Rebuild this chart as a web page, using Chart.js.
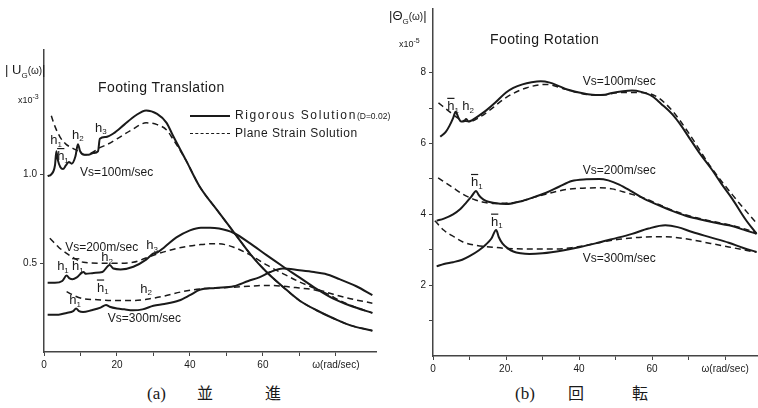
<!DOCTYPE html>
<html>
<head>
<meta charset="utf-8">
<script src="https://cdn.jsdelivr.net/npm/chart.js@4.4.1/dist/chart.umd.min.js"></script>
<style>
  body { margin:0; background:#fff; width:758px; height:408px; overflow:hidden; position:relative;
         font-family:"Liberation Sans", Arial, sans-serif; color:#1a1a1a; }
  canvas { position:absolute; top:0; }
  #cTrans { left:0; }
  #cRot { left:380px; }
  .txt { position:absolute; white-space:nowrap; line-height:1; }
  .cap { position:absolute; font-size:16px; line-height:1; }
  .cjk { font-family:"Noto Sans CJK JP", sans-serif; }
  .ser { font-family:"Liberation Serif", serif; font-size:17px; }
  .sol { position:absolute; border-top:2px solid #1a1a1a; width:40px; }
  .das { position:absolute; border-top:1.6px dashed #1a1a1a; width:40px; }
</style>
</head>
<body>
<canvas id="cTrans" width="380" height="380"></canvas>
<canvas id="cRot" width="378" height="380"></canvas>

<div class="txt" style="left:5px;top:63px;font-size:13px">| U<sub style="font-size:8px">G</sub><span style="font-size:10px">(ω)</span>|</div>
<div class="txt" style="left:18px;top:93px;font-size:9px">x10<sup style="font-size:7px">-3</sup></div>
<div class="txt" style="left:389px;top:9px;font-size:13px">|Θ<sub style="font-size:8px">G</sub><span style="font-size:10px">(ω)</span>|</div>
<div class="txt" style="left:399px;top:37px;font-size:9px">x10<sup style="font-size:7px">-5</sup></div>

<div class="txt" style="left:98px;top:80px;font-size:14px;letter-spacing:0.4px">Footing Translation</div>
<div class="txt" style="left:490px;top:32px;font-size:14px;letter-spacing:0.4px">Footing Rotation</div>

<div class="sol" style="left:190px;top:115px"></div>
<div class="txt" style="left:235px;top:109px;font-size:12px;letter-spacing:1.6px">Rigorous Solution<span style="font-size:8.5px;letter-spacing:0">(D=0.02)</span></div>
<div class="das" style="left:190px;top:133px"></div>
<div class="txt" style="left:235px;top:127px;font-size:12px;letter-spacing:0.5px">Plane Strain Solution</div>

<div class="cap ser" style="left:147px;top:385px">(a)</div>
<div class="cap cjk" style="left:197px;top:384px">並</div>
<div class="cap cjk" style="left:265px;top:384px">進</div>
<div class="cap ser" style="left:515px;top:385px">(b)</div>
<div class="cap cjk" style="left:568px;top:384px">回</div>
<div class="cap cjk" style="left:632px;top:384px">転</div>

<script>
// (a) footing translation |U_G(w)|, x10^-3
const tW100r = [1,2,3,3.4,3.8,4.5,5.2,6,6.8,7.6,8.6,9.3,9.9,11,12.2,13.5,14.8,15.3,17,19,22,25,28,31,33.6,35.3,38.9,42.7,47.4,52,56.6,61,65.6,70,74.7,79.3,84,90];
const tU100r = [0.99,1.0,1.05,1.13,1.08,1.04,1.03,1.05,1.07,1.06,1.10,1.17,1.13,1.11,1.11,1.12,1.13,1.20,1.21,1.23,1.28,1.33,1.36,1.34,1.29,1.22,1.08,0.93,0.80,0.675,0.55,0.45,0.365,0.29,0.235,0.19,0.15,0.12];
const tW100p = [2,3,4.4,6,7.6,9.5,11.2,13,15.3,17.5,20,24,28,31,33.6,35.3,38.9,42.7,47.4,52,56.6,61,65.6,70,74.7,79.3,84,90];
const tU100p = [1.33,1.27,1.21,1.17,1.15,1.13,1.11,1.12,1.15,1.17,1.20,1.25,1.29,1.28,1.25,1.20,1.08,0.93,0.80,0.675,0.55,0.45,0.365,0.29,0.235,0.19,0.15,0.12];
const tW200r = [1,3,5,6.2,7,7.8,9,10.8,11.5,13.6,16,18,19,21,24.5,28,30,31,33,36.3,40,43,45.5,48,52,56.6,61,65.6,70,74.7,79.3,84,90];
const tU200r = [0.39,0.39,0.40,0.43,0.415,0.41,0.42,0.45,0.44,0.445,0.45,0.49,0.47,0.465,0.48,0.52,0.555,0.56,0.59,0.645,0.685,0.70,0.70,0.695,0.67,0.61,0.545,0.48,0.42,0.355,0.30,0.26,0.22];
const tW200p = [1.6,4,6.2,8.5,10.8,15.3,20,24.4,30,34,38,43,47.4,52,56.6,61,65.6,70,74.7,79.3,84,90];
const tU200p = [0.64,0.59,0.555,0.525,0.505,0.50,0.50,0.505,0.545,0.57,0.59,0.605,0.61,0.59,0.545,0.49,0.44,0.395,0.355,0.325,0.30,0.275];
const tW300r = [1,4,6.2,8,8.8,9.6,10.7,13,15.5,17,18,20,22,24.4,27,30,33,37,40,42.7,47,52,56,59,62,65.5,70,74,77,81,85.6,90];
const tU300r = [0.21,0.21,0.22,0.23,0.245,0.23,0.225,0.235,0.25,0.265,0.255,0.245,0.24,0.235,0.24,0.26,0.27,0.29,0.32,0.35,0.36,0.37,0.40,0.42,0.45,0.47,0.46,0.45,0.44,0.41,0.37,0.32];
const tW300p = [6.2,8,10.7,14,20,25,29,33,38,42.7,47,52,56,61,65.5,70,74,77.4,81,85.6,90];
const tU300p = [0.34,0.32,0.30,0.295,0.29,0.29,0.30,0.315,0.34,0.355,0.36,0.365,0.37,0.375,0.37,0.36,0.35,0.33,0.29,0.25,0.22];

// (b) footing rotation |Theta_G(w)|, x10^-5
const rW100r = [2,3.5,4.5,5.5,6.2,7,7.7,8.5,9.1,9.7,10.5,12.5,14.5,17,20,22,24.5,27,29.5,32,34.5,37,40,42,44.5,47,49,52,54.5,57,60,62.5,65.5,68,70,73,76.4,79,82,85.5,88.6];
const rV100r = [6.19,6.33,6.5,6.72,6.9,6.72,6.62,6.63,6.69,6.62,6.65,6.78,6.93,7.15,7.44,7.57,7.67,7.73,7.76,7.72,7.62,7.52,7.44,7.4,7.37,7.38,7.43,7.48,7.5,7.46,7.34,7.12,6.83,6.5,6.19,5.73,5.26,4.86,4.43,3.87,3.45];
const rW100p = [1.5,4.5,6.5,8.2,10,12.7,16,20,25.5,31,36.4,40,43.6,47,51,56,61,65.5,70,76,82,88.6];
const rV100p = [7.15,6.9,6.74,6.65,6.62,6.74,6.98,7.3,7.57,7.67,7.53,7.43,7.37,7.38,7.44,7.44,7.34,6.93,6.3,5.35,4.55,3.75];
const rW200r = [1,3,5.5,7.5,9.1,10.5,11.8,12.5,13.2,14.5,16.4,20,24.5,28,31,34.5,38,42,45.5,48,51,54.5,58,62,65.5,69,72.7,77,81,85,88.6];
const rV200r = [3.82,3.88,4.0,4.15,4.33,4.5,4.66,4.55,4.47,4.38,4.33,4.29,4.38,4.5,4.61,4.78,4.94,4.99,5.0,4.96,4.84,4.64,4.43,4.25,4.10,3.97,3.87,3.77,3.69,3.57,3.45];
const rW200p = [1.4,5.5,8,11,13.5,16.4,21.8,29,36.4,41,45.5,49,52,55,58,62,65.5,69,72.7,77,81,85,88.6];
const rV200p = [5.03,4.75,4.58,4.43,4.35,4.31,4.33,4.52,4.70,4.74,4.75,4.72,4.64,4.55,4.45,4.27,4.12,3.99,3.89,3.79,3.71,3.6,3.48];
const rW300r = [1,3,5.5,8,10,12.5,14.5,16,17.3,18,19,20.5,22,24,26.4,30,35.5,40,44.5,49,54.5,59,63.6,67,71,76,81,85,88.6];
const rV300r = [2.53,2.6,2.65,2.72,2.82,2.98,3.15,3.32,3.56,3.36,3.18,3.04,2.95,2.9,2.88,2.9,2.98,3.07,3.18,3.3,3.45,3.6,3.69,3.64,3.5,3.35,3.2,3.05,2.94];
const rW300p = [0.5,3,6,8.2,12,15.6,20,26.5,33,38,43,47.3,52,56.4,60,63.6,67,71,76,81,85,88.6];
const rV300p = [3.82,3.55,3.35,3.22,3.12,3.08,3.04,3.02,3.02,3.06,3.15,3.24,3.31,3.35,3.37,3.37,3.34,3.28,3.18,3.08,3.0,2.93];

// curve labels and resonance marks (data coords)
const transNotes = [
  {t:'Vs=100m/sec', x:9.9, y:1.01},
  {t:'Vs=200m/sec', x:5.8, y:0.59},
  {t:'Vs=300m/sec', x:17.5, y:0.185},
  {h:'1', x:3.3, y:1.19}, {h:'1', bar:true, x:5.2, y:1.10}, {h:'2', x:9.3, y:1.22}, {h:'3', x:15.6, y:1.26},
  {h:'3', x:29.6, y:0.60},
  {h:'1', x:5.2, y:0.48}, {h:'1', bar:true, x:9.3, y:0.48}, {h:'2', x:17.3, y:0.53},
  {h:'1', x:8.5, y:0.29}, {h:'1', bar:true, x:16.1, y:0.36}, {h:'2', x:28, y:0.355}
];
const rotNotes = [
  {t:'Vs=100m/sec', x:41, y:7.75},
  {t:'Vs=200m/sec', x:41, y:5.22},
  {t:'Vs=300m/sec', x:41, y:2.75},
  {h:'1', bar:true, x:5.5, y:7.05}, {h:'2', x:9.6, y:7.05},
  {h:'1', bar:true, x:12, y:4.9},
  {h:'1', bar:true, x:17.5, y:3.78}
];

const INK = '#1a1a1a';
const FONT = '"Liberation Sans", Arial, sans-serif';

function pts(ws, vs) { return ws.map((w, i) => ({x: w, y: vs[i]})); }
function solid(ws, vs) {
  return {data: pts(ws, vs), borderColor: INK, borderWidth: 2, pointRadius: 0, cubicInterpolationMode: 'monotone'};
}
function dashed(ws, vs) {
  return {data: pts(ws, vs), borderColor: INK, borderWidth: 1.5, borderDash: [6, 4], pointRadius: 0, cubicInterpolationMode: 'monotone'};
}

function notesPlugin(items) {
  return {
    id: 'notes',
    afterDatasetsDraw(chart) {
      const ctx = chart.ctx, xs = chart.scales.x, ys = chart.scales.y;
      ctx.save();
      ctx.fillStyle = INK;
      ctx.strokeStyle = INK;
      ctx.textBaseline = 'middle';
      ctx.textAlign = 'left';
      items.forEach(n => {
        const px = xs.getPixelForValue(n.x), py = ys.getPixelForValue(n.y);
        if (n.t) {
          ctx.font = '12px ' + FONT;
          ctx.fillText(n.t, px, py);
          return;
        }
        ctx.font = '13px ' + FONT;
        const hw = ctx.measureText('h').width;
        ctx.font = '8px ' + FONT;
        const sw = ctx.measureText(n.h).width;
        const left = px - (hw + sw) / 2;
        ctx.font = '13px ' + FONT;
        ctx.fillText('h', left, py);
        ctx.font = '8px ' + FONT;
        ctx.fillText(n.h, left + hw, py + 4);
        if (n.bar) {
          ctx.lineWidth = 1.2;
          ctx.beginPath();
          ctx.moveTo(left, py - 8);
          ctx.lineTo(left + hw, py - 8);
          ctx.stroke();
        }
      });
      ctx.restore();
    }
  };
}

function axisOpts(extra) {
  return Object.assign({
    type: 'linear',
    grid: {drawOnChartArea: false, drawTicks: true, tickLength: 4, color: '#444'},
    border: {display: true, color: '#444', width: 1.5}
  }, extra);
}

function xTicks(scale) {
  scale.ticks = [0, 10, 20, 30, 40, 50, 60, 70, 80].map(v => ({value: v}));
}

new Chart(document.getElementById('cTrans'), {
  type: 'line',
  data: {datasets: [
    solid(tW100r, tU100r), dashed(tW100p, tU100p),
    solid(tW200r, tU200r), dashed(tW200p, tU200p),
    solid(tW300r, tU300r), dashed(tW300p, tU300p)
  ]},
  options: {
    responsive: false, animation: false, devicePixelRatio: 1,
    layout: {padding: {top: 50, right: 4, left: 0, bottom: 0}},
    plugins: {legend: {display: false}, tooltip: {enabled: false}},
    scales: {
      x: axisOpts({min: 0, max: 91,
        afterFit: s => { s.height = 28; },
        afterBuildTicks: xTicks,
        ticks: {color: INK, font: {family: FONT, size: 10}, padding: 3, autoSkip: false, maxRotation: 0,
          callback: v => v === 80 ? 'ω(rad/sec)' : (v % 20 === 0 ? String(v) : '')}}),
      y: axisOpts({min: 0, max: 1.7,
        afterFit: s => { s.width = 44; },
        afterBuildTicks: s => { s.ticks = [{value: 0.5}, {value: 1.0}]; },
        ticks: {color: INK, font: {family: FONT, size: 10}, padding: 3, autoSkip: false,
          callback: v => v.toFixed(1)}})
    }
  },
  plugins: [notesPlugin(transNotes)]
});

new Chart(document.getElementById('cRot'), {
  type: 'line',
  data: {datasets: [
    solid(rW100r, rV100r), dashed(rW100p, rV100p),
    solid(rW200r, rV200r), dashed(rW200p, rV200p),
    solid(rW300r, rV300r), dashed(rW300p, rV300p)
  ]},
  options: {
    responsive: false, animation: false, devicePixelRatio: 1,
    layout: {padding: {top: 3, right: 0, left: 0, bottom: 0}},
    plugins: {legend: {display: false}, tooltip: {enabled: false}},
    scales: {
      x: axisOpts({min: 0, max: 89,
        afterFit: s => { s.height = 24; },
        afterBuildTicks: xTicks,
        ticks: {color: INK, font: {family: FONT, size: 10}, padding: 3, autoSkip: false, maxRotation: 0,
          callback: v => v === 80 ? 'ω(rad/sec)' : (v === 20 ? '20.' : (v % 20 === 0 ? String(v) : ''))}}),
      y: axisOpts({min: 0, max: 9.8,
        afterFit: s => { s.width = 53; },
        afterBuildTicks: s => { s.ticks = [1, 2, 3, 4, 5, 6, 7, 8].map(v => ({value: v})); },
        ticks: {color: INK, font: {family: FONT, size: 10}, padding: 3, autoSkip: false,
          callback: v => v % 2 === 0 ? String(v) : ''}})
    }
  },
  plugins: [notesPlugin(rotNotes)]
});
</script>
</body>
</html>
